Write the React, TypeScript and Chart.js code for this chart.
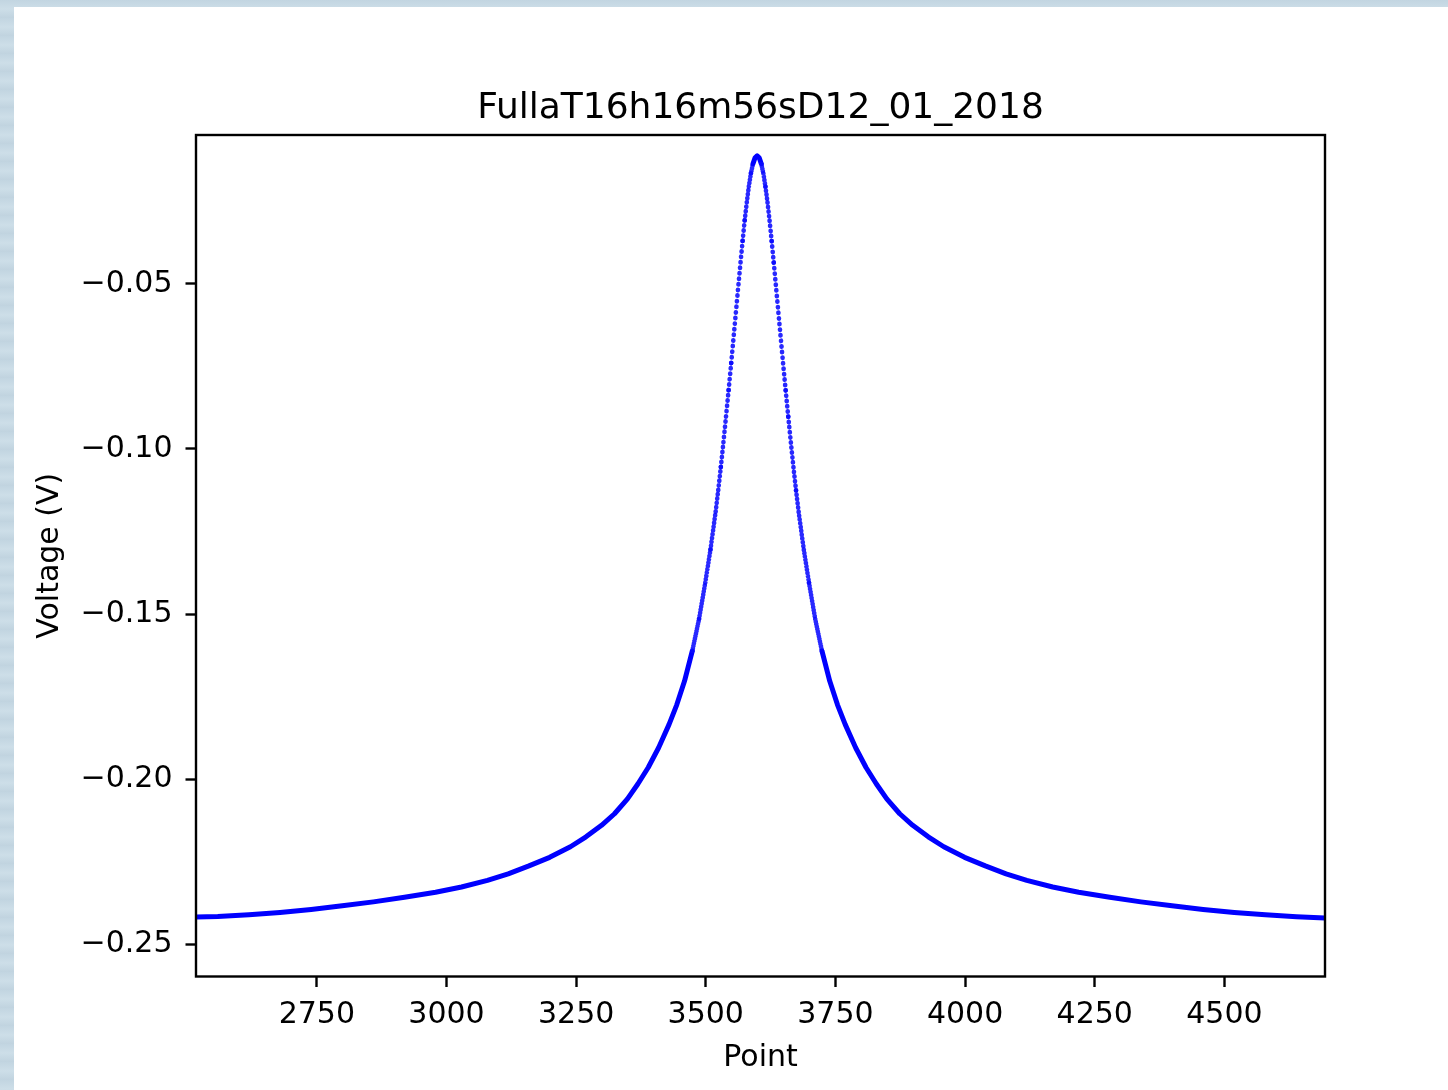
import React, { useEffect, useRef } from "react";
import { Chart, registerables } from "chart.js";

Chart.register(...registerables);

// ---- data ----
const pointIndex: number[] = [
  2517, 2559, 2619, 2679, 2739, 2799, 2859, 2919, 2979, 3029, 3079, 3119, 3159, 3199, 3239, 3269,
  3299, 3324, 3349, 3369, 3389, 3409, 3429, 3444, 3459, 3474, 3487, 3499, 3509, 3519, 3524, 3529,
  3534, 3539, 3544, 3549, 3554, 3559, 3563, 3567, 3571, 3575, 3579, 3583, 3587, 3591, 3595, 3599,
  3603, 3607, 3611, 3615, 3619, 3623, 3627, 3631, 3635, 3639, 3644, 3649, 3654, 3659, 3664, 3669,
  3674, 3679, 3689, 3699, 3711, 3724, 3739, 3754, 3769, 3789, 3809, 3829, 3849, 3874, 3899, 3929,
  3959, 3999, 4039, 4079, 4119, 4169, 4219, 4279, 4339, 4399, 4459, 4519, 4579, 4639, 4694,
];

const voltage: number[] = [
  -0.2418, -0.2416, -0.2411, -0.2404, -0.2395, -0.2384, -0.2372, -0.2358, -0.2343, -0.2327, -0.2307, -0.2287, -0.2263, -0.2237, -0.2205, -0.2175,
  -0.214, -0.2105, -0.206, -0.2015, -0.1965, -0.1905, -0.1835, -0.1775, -0.1703, -0.1612, -0.1515, -0.1405, -0.1305, -0.119, -0.1125, -0.1055,
  -0.098, -0.0902, -0.0822, -0.074, -0.0655, -0.057, -0.0502, -0.0435, -0.037, -0.0308, -0.0253, -0.0205, -0.0165, -0.0136, -0.0118, -0.0112,
  -0.0118, -0.0136, -0.0165, -0.0205, -0.0253, -0.0308, -0.037, -0.0435, -0.0502, -0.057, -0.0655, -0.074, -0.0822, -0.0902, -0.098, -0.1055,
  -0.1125, -0.119, -0.1305, -0.1405, -0.1515, -0.1612, -0.1703, -0.1775, -0.1835, -0.1905, -0.1965, -0.2015, -0.206, -0.2105, -0.214, -0.2175,
  -0.2205, -0.2237, -0.2263, -0.2287, -0.2307, -0.2327, -0.2343, -0.2358, -0.2372, -0.2384, -0.2395, -0.2404, -0.2411, -0.2417, -0.2421,
];

const xTicks: number[] = [2750, 3000, 3250, 3500, 3750, 4000, 4250, 4500];
const yTicks: number[] = [-0.25, -0.2, -0.15, -0.1, -0.05];

const xRange: number[] = [2517, 4694];
const yRange: number[] = [-0.2598, -0.0049];

const TITLE = "FullaT16h16m56sD12_01_2018";
const X_LABEL = "Point";
const Y_LABEL = "Voltage (V)";

const FONT = "'DejaVu Sans', 'Liberation Sans', sans-serif";
const BLUE = "#0000ff";
const DOT_BLUE = "rgba(10,10,255,0.88)";

// spacing (px along the curve) of one sample step inside a segment
function sampleSpacing(ctx: any): number {
  const dx = pointIndex[ctx.p1DataIndex] - pointIndex[ctx.p0DataIndex];
  const len = Math.hypot(ctx.p1.x - ctx.p0.x, ctx.p1.y - ctx.p0.y);
  return len / Math.max(dx, 1);
}
const DOT_MIN_SPACING = 2.3;
const isDotted = (ctx: any) => sampleSpacing(ctx) > DOT_MIN_SPACING;

const framePlugin = {
  id: "frame",
  afterDraw(chart: any) {
    const { ctx, chartArea } = chart;
    const { left, top, right, bottom } = chartArea;
    ctx.save();
    ctx.strokeStyle = "#000";
    ctx.lineWidth = 2.4;
    ctx.strokeRect(left, top, right - left, bottom - top);
    // title centred over the axes, like matplotlib
    ctx.fillStyle = "#000";
    ctx.font = `36px ${FONT}`;
    ctx.textAlign = "center";
    ctx.textBaseline = "alphabetic";
    ctx.fillText(TITLE, (left + right) / 2, top - 17);
    ctx.restore();
  },
};

export default function App() {
  const canvasRef = useRef<HTMLCanvasElement | null>(null);

  useEffect(() => {
    const canvas = canvasRef.current;
    if (!canvas) return;
    const data = pointIndex.map((x, i) => ({ x, y: voltage[i] }));

    const chart = new Chart(canvas, {
      type: "line",
      data: {
        datasets: [
          {
            data,
            borderColor: BLUE,
            borderWidth: 5,
            borderCapStyle: "round",
            borderJoinStyle: "round",
            pointRadius: 0,
            pointHoverRadius: 0,
            fill: false,
            tension: 0,
            segment: {
              borderDash: (ctx: any) => {
                const s = sampleSpacing(ctx);
                return s > DOT_MIN_SPACING ? [0.4, s - 0.4] : [];
              },
              borderWidth: (ctx: any) => (isDotted(ctx) ? 4.6 : 5),
              borderColor: (ctx: any) => (isDotted(ctx) ? DOT_BLUE : BLUE),
            },
          } as any,
        ],
      },
      options: {
        responsive: false,
        animation: false,
        devicePixelRatio: 1,
        events: [],
        layout: { padding: { left: 0, right: 123, top: 128, bottom: 0 } },
        plugins: {
          legend: { display: false },
          tooltip: { enabled: false },
          title: { display: false },
        },
        scales: {
          x: {
            type: "linear",
            min: xRange[0],
            max: xRange[1],
            afterBuildTicks: (scale: any) => {
              scale.ticks = xTicks.map((v) => ({ value: v }));
            },
            afterFit: (scale: any) => {
              scale.height = 113.5;
            },
            ticks: {
              color: "#000",
              font: { family: FONT, size: 30 },
              padding: 10,
              maxRotation: 0,
              autoSkip: false,
              callback: (v: any) => String(v),
            },
            grid: {
              display: true,
              drawOnChartArea: false,
              drawTicks: true,
              tickLength: 10.5,
              tickWidth: 2.4,
              tickColor: "#000",
            },
            border: { display: false },
            title: {
              display: true,
              text: X_LABEL,
              color: "#000",
              font: { family: FONT, size: 30, lineHeight: 1.2 },
              padding: { top: 0, bottom: 14 },
            },
          },
          y: {
            type: "linear",
            min: yRange[0],
            max: yRange[1],
            afterBuildTicks: (scale: any) => {
              scale.ticks = yTicks.map((v) => ({ value: v }));
            },
            afterFit: (scale: any) => {
              scale.width = 182;
            },
            ticks: {
              color: "#000",
              font: { family: FONT, size: 30 },
              padding: 13,
              autoSkip: false,
              callback: (v: any) => {
                const n = Number(v);
                return (n < 0 ? "\u2212" : "") + Math.abs(n).toFixed(2);
              },
            },
            grid: {
              display: true,
              drawOnChartArea: false,
              drawTicks: true,
              tickLength: 10.5,
              tickWidth: 2.4,
              tickColor: "#000",
            },
            border: { display: false },
            title: {
              display: true,
              text: Y_LABEL,
              color: "#000",
              font: { family: FONT, size: 30, lineHeight: 1.2 },
              padding: { top: 18, bottom: 0 },
            },
          },
        },
      },
      plugins: [framePlugin],
    });

    return () => chart.destroy();
  }, []);

  return (
    <div
      style={{
        position: "fixed",
        left: 0,
        top: 0,
        width: 1448,
        height: 1090,
        background: "repeating-linear-gradient(180deg, #c2d5e1 0px, #cddee8 9px, #c0d3df 18px)",
        overflow: "hidden",
      }}
    >
      <div
        style={{
          position: "absolute",
          left: 14,
          top: 7,
          width: 1434,
          height: 1083,
          background: "#ffffff",
        }}
      >
        <canvas
          ref={canvasRef}
          width={1434}
          height={1083}
          style={{ display: "block", width: 1434, height: 1083 }}
        />
      </div>
    </div>
  );
}
